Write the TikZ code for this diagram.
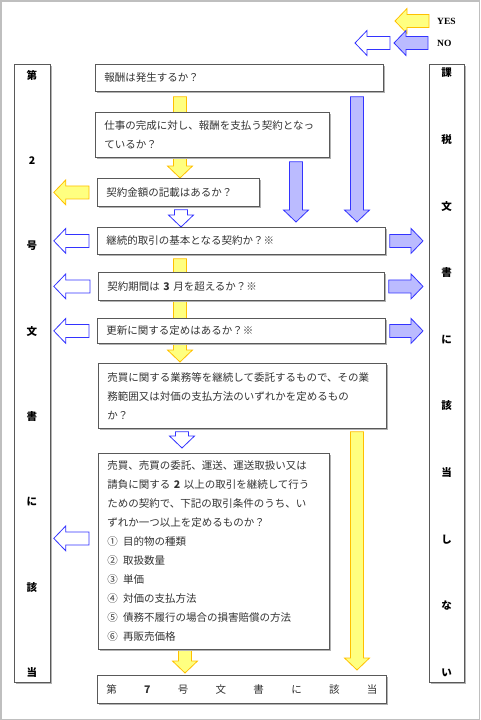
\documentclass[tikz,border=0pt]{standalone}
\usepackage{fontspec}
\usetikzlibrary{calc,shadows,backgrounds}
\newfontfamily\jp{Noto Sans CJK JP}
\newfontfamily\lat{Liberation Serif}
\definecolor{yesfill}{RGB}{255,255,128}
\definecolor{yesline}{RGB}{255,192,0}
\definecolor{nofill}{RGB}{187,187,255}
\definecolor{noline}{RGB}{51,51,255}
\newcommand\qfont{\jp\fontsize{10.5}{19}\selectfont}
% block arrow: style, from, to, gap at start, gap at end
\newcommand\blockarrow[5]{%
  \path[#1] let \p1=(#2), \p2=(#3),
      \n1={atan2(\y2-\y1,\x2-\x1)},
      \n2={veclen(\x2-\x1,\y2-\y1)-#4-#5} in
    [shift={(\p1)}, rotate=\n1, xshift=#4]
    (0pt,-6.5pt) -- (\n2-12pt,-6.5pt) -- (\n2-12pt,-12.5pt) -- (\n2,0pt)
    -- (\n2-12pt,12.5pt) -- (\n2-12pt,6.5pt) -- (0pt,6.5pt) -- cycle;}
\tikzset{
  qbox/.style     = {draw=black!65, fill=white, line width=0.8pt, anchor=north west,
                     align=left, inner xsep=9pt, inner ysep=0pt, font=\qfont, text=black!80,
                     drop shadow={shadow xshift=1.5pt, shadow yshift=-1.5pt,
                                  fill=black!30, opacity=1}},
  sidebox/.style  = {qbox, minimum width=36pt, minimum height=618pt, inner sep=0pt},
  sidech/.style   = {font=\jp\bfseries\fontsize{10.5}{12}\selectfont, inner sep=0pt},
  legend/.style   = {font=\lat\bfseries\fontsize{9.5}{11}\selectfont, anchor=west, inner sep=0pt},
  yesarrow/.style = {draw=yesline, fill=yesfill, line width=0.8pt, line join=miter},
  noarrow/.style  = {draw=noline, fill=nofill, line width=0.8pt, line join=miter},
  nowhite/.style  = {draw=noline, fill=white, line width=0.8pt, line join=miter}
}
\begin{document}
\begin{tikzpicture}[x=1pt, y=-1pt]
  \useasboundingbox (0,0) rectangle (480,720);
  \draw[black!25, line width=1.5pt] (0.75,0.75) rectangle (479.25,719.25);

  % legend
  \node[legend] (yes) at (437,21) {YES};
  \node[legend] (no)  at (437,43) {NO};
  \coordinate (yestip) at (395,21);
  \coordinate (notip)  at (394,43);
  \coordinate (wtip)   at (355,43);

  % side columns
  \node[sidebox] (sideL) at (14,64) {};
  \node[sidebox, minimum width=35pt] (sideR) at (429,64) {};
  \foreach \ch [count=\i from 0] in {第,2,号,文,書,に,該,当}
    \node[sidech] (sl\i) at (32,75+85.4*\i) {\ch};
  \foreach \ch [count=\i from 0] in {課,税,文,書,に,該,当,し,な,い}
    \node[sidech] (sr\i) at (446.5,73+66.6*\i) {\ch};

  % questions
  \node[qbox, text width=270pt, minimum height=27pt] (q1) at (95,64) {報酬は発生するか？};
  \node[qbox, text width=216pt, minimum height=45pt] (q2) at (95,112)
    {仕事の完成に対し、報酬を支払う契約となっ\\ているか？};
  \node[qbox, text width=144pt, minimum height=28pt] (q3) at (97,178) {契約金額の記載はあるか？};
  \node[qbox, text width=270pt, minimum height=27pt] (q4) at (97,227) {継続的取引の基本となる契約か？※};
  \node[qbox, text width=268pt, minimum height=28pt] (q5) at (98,272) {契約期間は \textbf{3} 月を超えるか？※};
  \node[qbox, text width=270pt, minimum height=25pt] (q6) at (97,318) {更新に関する定めはあるか？※};
  \node[qbox, text width=270pt, minimum height=65pt] (q7) at (98,363)
    {売買に関する業務等を継続して委託するもので、その業\\務範囲又は対価の支払方法のいずれかを定めるもの\\か？};
  \node[qbox, text width=213pt, minimum height=196pt] (q8) at (98,453)
    {売買、売買の委託、運送、運送取扱い又は\\請負に関する \textbf{2} 以上の取引を継続して行う\\
     ための契約で、下記の取引条件のうち、い\\ずれか一つ以上を定めるものか？\\
     ①\enspace 目的物の種類\\②\enspace 取扱数量\\③\enspace 単価\\④\enspace 対価の支払方法\\
     ⑤\enspace 債務不履行の場合の損害賠償の方法\\⑥\enspace 再販売価格};
  \node[qbox, text width=271pt, minimum height=28pt] (q9) at (97,675)
    {第\hfill \textbf{7}\hfill 号\hfill 文\hfill 書\hfill に\hfill 該\hfill 当};

  \coordinate (colA) at (180,0);
  \coordinate (colB) at (296,0);
  \coordinate (colC) at (357,0);
  \coordinate (q8l)  at ($(q8.west)+(0,-13)$);

  \begin{scope}[on background layer]
    % legend arrows
    \blockarrow{yesarrow}{yes.west}{yestip}{8pt}{0pt}
    \blockarrow{noarrow}{no.west}{notip}{9pt}{0pt}
    \blockarrow{nowhite}{notip}{wtip}{4pt}{0pt}
    % yes path
    \blockarrow{yesarrow}{q1.south -| colA}{q3.north -| colA}{5pt}{0pt}
    \blockarrow{yesarrow}{q3.west}{sideL.east |- q3.west}{8pt}{3pt}
    \blockarrow{yesarrow}{q4.south -| colA}{q7.north -| colA}{4pt}{1pt}
    \blockarrow{yesarrow}{q8.south -| 185,0}{q9.north -| 185,0}{0pt}{2pt}
    \blockarrow{yesarrow}{q7.south -| colC}{q9.north -| colC}{3pt}{5pt}
    % no path
    \blockarrow{noarrow}{q1.south -| colC}{q4.north -| colC}{5pt}{5pt}
    \blockarrow{noarrow}{q2.south -| colB}{q4.north -| colB}{4pt}{5pt}
    \blockarrow{nowhite}{q3.south -| 181,0}{q4.north -| 181,0}{3pt}{0pt}
    \blockarrow{nowhite}{q7.south -| 182,0}{q8.north -| 182,0}{3pt}{5pt}
    \foreach \q in {q4,q5,q6} {
      \blockarrow{nowhite}{\q.west}{sideL.east |- \q.west}{8pt}{3pt}
      \blockarrow{noarrow}{\q.east}{sideR.west |- \q.east}{4pt}{6pt}
    }
    \blockarrow{nowhite}{q8l}{sideL.east |- q8l}{9pt}{3pt}
  \end{scope}
\end{tikzpicture}
\end{document}
